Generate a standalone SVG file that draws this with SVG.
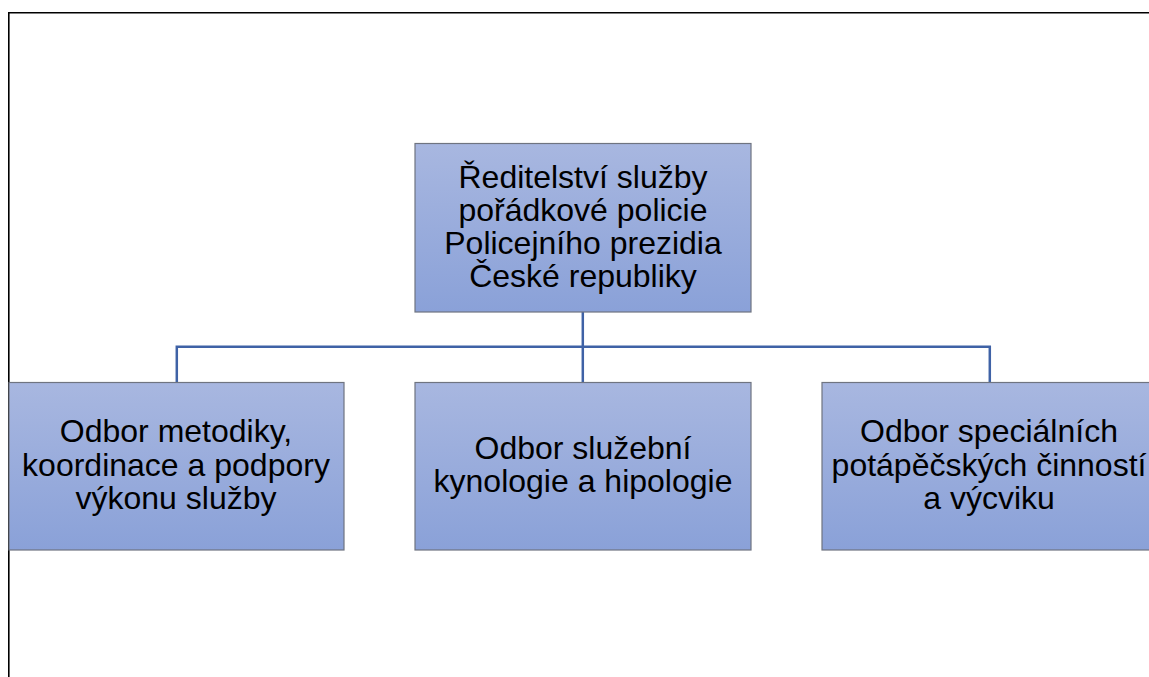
<svg xmlns="http://www.w3.org/2000/svg" width="1149" height="677" viewBox="0 0 1149 677">
  <defs>
    <linearGradient id="boxFill" x1="0" y1="0" x2="0" y2="1">
      <stop offset="0" stop-color="#a8b7e0"/>
      <stop offset="1" stop-color="#8aa1d8"/>
    </linearGradient>
    <style>
      .box { fill: url(#boxFill); stroke: #6f7480; stroke-width: 1.2; }
      .lbl { font-family: "Liberation Sans", Arial, sans-serif; font-size: 32px; fill: #000; text-anchor: middle; }
      .conn { fill: none; stroke: #3f62a6; stroke-width: 2.5; }
      .frame { fill: none; stroke: #000; stroke-width: 1.6; }
    </style>
  </defs>
  <rect width="1149" height="677" fill="#fff"/>
  <path class="frame" d="M 8.8 677 L 8.8 12.8 L 1149 12.8"/>

  <g id="connectors">
    <path class="conn" d="M 582.8 312 L 582.8 382.5"/>
    <path class="conn" d="M 176.8 382.5 L 176.8 346.8 L 989.8 346.8 L 989.8 382.5"/>
  </g>

  <g id="node-top">
    <rect class="box" x="415" y="143.5" width="336" height="168.5"/>
    <text class="lbl" x="583" y="187.5">Ředitelství služby</text>
    <text class="lbl" x="583" y="220.8">pořádkové policie</text>
    <text class="lbl" x="583" y="254.1">Policejního prezidia</text>
    <text class="lbl" x="583" y="287.4">České republiky</text>
  </g>

  <g id="node-left">
    <rect class="box" x="9" y="382.5" width="335" height="167.5"/>
    <text class="lbl" x="176" y="442">Odbor metodiky,</text>
    <text class="lbl" x="176" y="475.5">koordinace a podpory</text>
    <text class="lbl" x="176" y="509">výkonu služby</text>
  </g>

  <g id="node-middle">
    <rect class="box" x="415" y="382.5" width="336" height="167.5"/>
    <text class="lbl" x="583" y="458.5">Odbor služební</text>
    <text class="lbl" x="583" y="492">kynologie a hipologie</text>
  </g>

  <g id="node-right">
    <rect class="box" x="822" y="382.5" width="336" height="167.5"/>
    <text class="lbl" x="989" y="442">Odbor speciálních</text>
    <text class="lbl" x="989" y="475.5">potápěčských činností</text>
    <text class="lbl" x="989" y="509">a výcviku</text>
  </g>
</svg>
